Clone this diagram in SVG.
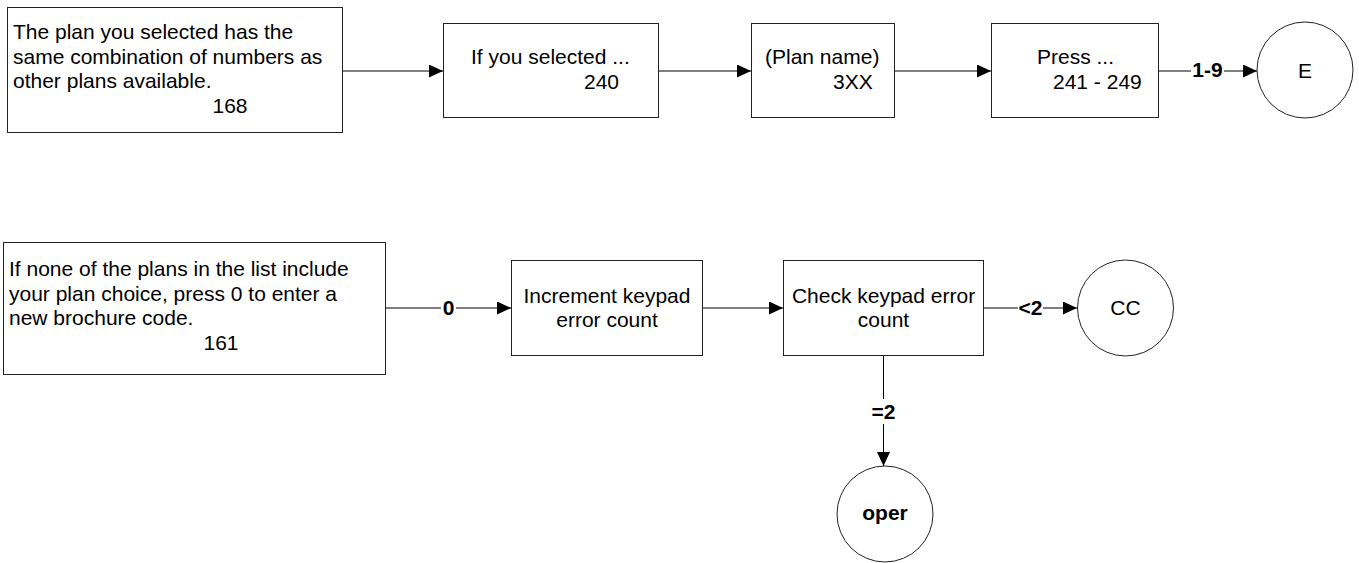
<svg xmlns="http://www.w3.org/2000/svg" width="1359" height="563" viewBox="0 0 1359 563">
<defs>
<style>
.box{fill:#fff;stroke:#222;stroke-width:1}
.t{font-family:"Liberation Sans",Arial,sans-serif;font-size:21px;fill:#000}
.c{text-anchor:middle}
.b{font-weight:bold}
.e{fill:none;stroke:#000;stroke-width:1}
.lb{fill:#fff;stroke:none}
</style>
<marker id="ah" markerUnits="userSpaceOnUse" markerWidth="15" markerHeight="14" refX="14" refY="6.5" orient="auto">
<path d="M0,0 L14,6.5 L0,13 z" fill="#000"/>
</marker>
</defs>
<rect width="1359" height="563" fill="#fff"/>

<g id="connectors">
<line class="e" x1="343" y1="71" x2="443" y2="71" marker-end="url(#ah)"/>
<line class="e" x1="659" y1="71" x2="751" y2="71" marker-end="url(#ah)"/>
<line class="e" x1="895" y1="71" x2="991" y2="71" marker-end="url(#ah)"/>
<line class="e" x1="1159" y1="71" x2="1257" y2="71" marker-end="url(#ah)"/>
<rect class="lb" x="1191" y="60" width="33" height="20"/>
<text class="t c b" x="1207.5" y="77">1-9</text>
<line class="e" x1="386" y1="308" x2="511" y2="308" marker-end="url(#ah)"/>
<rect class="lb" x="441" y="297" width="15" height="20"/>
<text class="t c b" x="448.5" y="315">0</text>
<line class="e" x1="703" y1="308" x2="783" y2="308" marker-end="url(#ah)"/>
<line class="e" x1="984" y1="308" x2="1077" y2="308" marker-end="url(#ah)"/>
<rect class="lb" x="1018" y="297" width="25" height="20"/>
<text class="t c b" x="1030.5" y="315">&lt;2</text>
<line class="e" x1="883.5" y1="356" x2="883.5" y2="466" marker-end="url(#ah)"/>
<rect class="lb" x="870" y="399" width="27" height="25"/>
<text class="t c b" x="883.5" y="419">=2</text>
</g>

<g id="n168">
<rect class="box" x="7.5" y="7.5" width="335" height="125"/>
<text class="t" x="13" y="39">The plan you selected has the</text>
<text class="t" x="13" y="63.5">same combination of numbers as</text>
<text class="t" x="13" y="88">other plans available.</text>
<text class="t c" x="230" y="112.5">168</text>
</g>

<g id="n240">
<rect class="box" x="443.5" y="23.5" width="215" height="94"/>
<text class="t" x="471" y="64">If you selected ...</text>
<text class="t" x="584" y="89">240</text>
</g>

<g id="n3XX">
<rect class="box" x="751.5" y="23.5" width="143" height="94"/>
<text class="t" x="765" y="64">(Plan name)</text>
<text class="t" x="833" y="89">3XX</text>
</g>

<g id="n241">
<rect class="box" x="991.5" y="23.5" width="167" height="94"/>
<text class="t" x="1037" y="64">Press ...</text>
<text class="t" x="1053" y="89">241 - 249</text>
</g>

<g id="nE">
<circle class="box" cx="1305" cy="70" r="48"/>
<text class="t c" x="1305" y="78">E</text>
</g>

<g id="n161">
<rect class="box" x="3.5" y="242.5" width="382" height="132"/>
<text class="t" x="9" y="276">If none of the plans in the list include</text>
<text class="t" x="9" y="300.5">your plan choice, press 0 to enter a</text>
<text class="t" x="9" y="325">new brochure code.</text>
<text class="t c" x="221" y="350">161</text>
</g>

<g id="nInc">
<rect class="box" x="511.5" y="260.5" width="191" height="95"/>
<text class="t c" x="607" y="303">Increment keypad</text>
<text class="t c" x="607" y="327">error count</text>
</g>

<g id="nCheck">
<rect class="box" x="783.5" y="260.5" width="200" height="95"/>
<text class="t c" x="883.5" y="303">Check keypad error</text>
<text class="t c" x="883.5" y="327">count</text>
</g>

<g id="nCC">
<circle class="box" cx="1125.5" cy="308" r="48"/>
<text class="t c" x="1125.5" y="315">CC</text>
</g>

<g id="nOper">
<circle class="box" cx="885" cy="514" r="48"/>
<text class="t c b" x="885" y="520">oper</text>
</g>
</svg>
